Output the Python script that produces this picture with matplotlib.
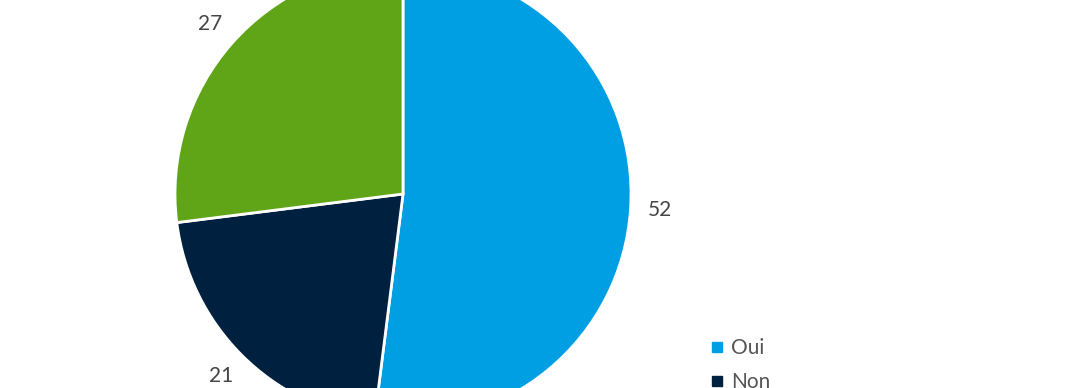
import matplotlib
matplotlib.use("Agg")
import matplotlib.pyplot as plt
from matplotlib.lines import Line2D

# chart data
categories = ["Oui", "Non", "Ne sait pas"]
values = [52, 21, 27]
colors = ["#009fe3", "#00203f", "#60a517"]

plt.rcParams['font.family'] = ['Lato', 'DejaVu Sans']

fig = plt.figure(figsize=(10.8, 3.88), dpi=100)
ax = fig.add_axes([0, 0, 1, 1])

# pie is bigger than the canvas, top and bottom are cut off
wedges, texts = ax.pie(values, colors=colors, labels=[str(v) for v in values],
                       center=(403, 194), radius=228, startangle=90,
                       counterclock=False, labeldistance=1.13, frame=True,
                       wedgeprops=dict(edgecolor="white", linewidth=2),
                       textprops=dict(color="#444444", fontsize=15))
for t in texts:
    t.set_horizontalalignment("center")

ax.set_xlim(0, 1080)
ax.set_ylim(0, 388)
ax.axis("off")

handles = [Line2D([], [], marker="s", linestyle="none", markersize=7,
                  markerfacecolor=c, markeredgecolor=c) for c in colors]
fig.legend(handles, categories, loc="upper left",
           bbox_to_anchor=(700 / 1080, 1 - 328 / 388),
           frameon=False, fontsize=15, labelcolor="#555555",
           handlelength=0.6, handletextpad=0.4, borderpad=0,
           labelspacing=0.65)

fig.savefig("out.png", dpi=100)
